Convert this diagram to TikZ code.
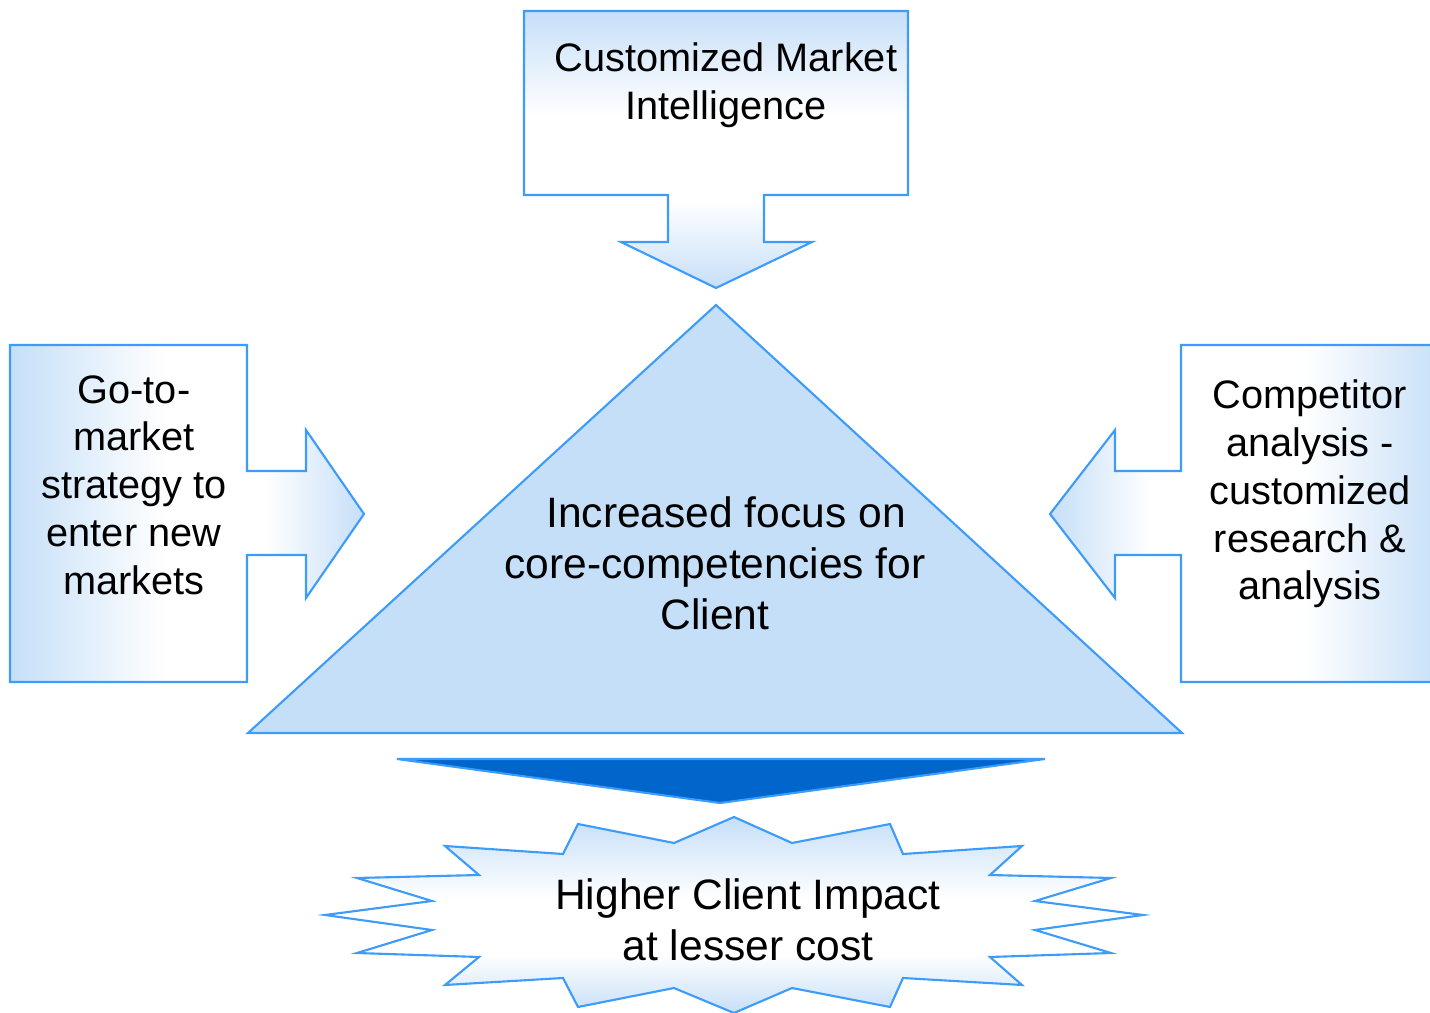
\documentclass[tikz,border=0pt]{standalone}
\usepackage{fontspec}
\setmainfont{Liberation Sans}
\usepackage{tikz}

\definecolor{calloutblue}{HTML}{C6DFF8}
\definecolor{edgeblue}{HTML}{3D9BFA}
\definecolor{darkblue}{HTML}{0066CC}

% Gradients of the callouts (blue - white - blue)
\pgfdeclareverticalshading{topcall}{100bp}{color(0bp)=(calloutblue); color(25bp)=(calloutblue); color(41bp)=(white); color(56bp)=(white); color(75bp)=(calloutblue); color(100bp)=(calloutblue)}
\pgfdeclarehorizontalshading{leftcall}{100bp}{color(0bp)=(calloutblue); color(25bp)=(calloutblue); color(47bp)=(white); color(61bp)=(white); color(75bp)=(calloutblue); color(100bp)=(calloutblue)}
\pgfdeclarehorizontalshading{rightcall}{100bp}{color(0bp)=(calloutblue); color(25bp)=(calloutblue); color(38bp)=(white); color(57bp)=(white); color(75bp)=(calloutblue); color(100bp)=(calloutblue)}
\pgfdeclareverticalshading{burst}{100bp}{color(0bp)=(calloutblue); color(25bp)=(calloutblue); color(40bp)=(white); color(54bp)=(white); color(75bp)=(calloutblue); color(100bp)=(calloutblue)}

\begin{document}
\begin{tikzpicture}[
    x={(0.01cm,0)},
    y={(0,-0.01cm)},
    outline/.style={draw=edgeblue, line width=0.6pt, line join=miter},
    calltext/.style={align=center, inner sep=0pt, font=\fontsize{11.3}{13.6}\selectfont},
    bigtext/.style={align=center, inner sep=0pt, font=\fontsize{12.1}{14.5}\selectfont},
]
\useasboundingbox (0,0) rectangle (1430,1013);
\clip (0,0) rectangle (1430,1013);

% Top callout
\draw
[
    outline,
    shading=topcall
] (524,11) -- (908,11) -- (908,195) -- (764,195) -- (764,242) -- (812,242)
  -- (716,288) -- (621,242) -- (668,242) -- (668,195) -- (524,195) -- cycle;
% Left callout
\draw
[
    outline,
    shading=leftcall
] (10,345) -- (247,345) -- (247,471) -- (306,471) -- (306,430) -- (364,514)
  -- (306,598) -- (306,555) -- (247,555) -- (247,682) -- (10,682) -- cycle;
% Right callout
\draw
[
    outline,
    shading=rightcall
] (1445,345) -- (1181,345) -- (1181,471) -- (1115,471) -- (1115,430) -- (1050,514)
  -- (1115,598) -- (1115,555) -- (1181,555) -- (1181,682) -- (1445,682) -- cycle;
% Triangle
\draw
[
    outline,
    fill=calloutblue
] (716,305) -- (1182,733) -- (248,733) -- cycle;
% Dark arrow
\draw
[
    outline,
    fill=darkblue
] (397,759) -- (1045,759) -- (720,803) -- cycle;
% Starburst
\draw
[
    outline,
    shading=burst
] (734,817) -- (792,843) -- (890,824) -- (903,854) -- (1022,846) -- (990,875)
  -- (1111,878) -- (1035,901) -- (1143,915) -- (1035,930) -- (1111,953)
  -- (990,957) -- (1022,985) -- (903,978) -- (890,1007) -- (792,988)
  -- (734,1013) -- (674,988) -- (578,1007) -- (563,978) -- (445,985)
  -- (479,957) -- (357,953) -- (432,930) -- (325,915) -- (432,901)
  -- (357,878) -- (479,875) -- (445,846) -- (563,854) -- (578,824)
  -- (674,843) -- cycle;

% Texts
\node[calltext] (intel) at (726,85) {Customized Market\\Intelligence};
\node[calltext] (gotomarket) at (134,485) {Go-to-\\market\\strategy to\\enter new\\markets};
\node[calltext] (competitor) at (1310,494) {Competitor\\analysis -\\customized\\research \&\\analysis};
\node[bigtext] (focus) at (715,563) {\hspace*{0.22cm}Increased focus on\\core-competencies for\\Client};
\node[bigtext] (impact) at (748,920) {Higher Client Impact\\at lesser cost};
\end{tikzpicture}
\end{document}
